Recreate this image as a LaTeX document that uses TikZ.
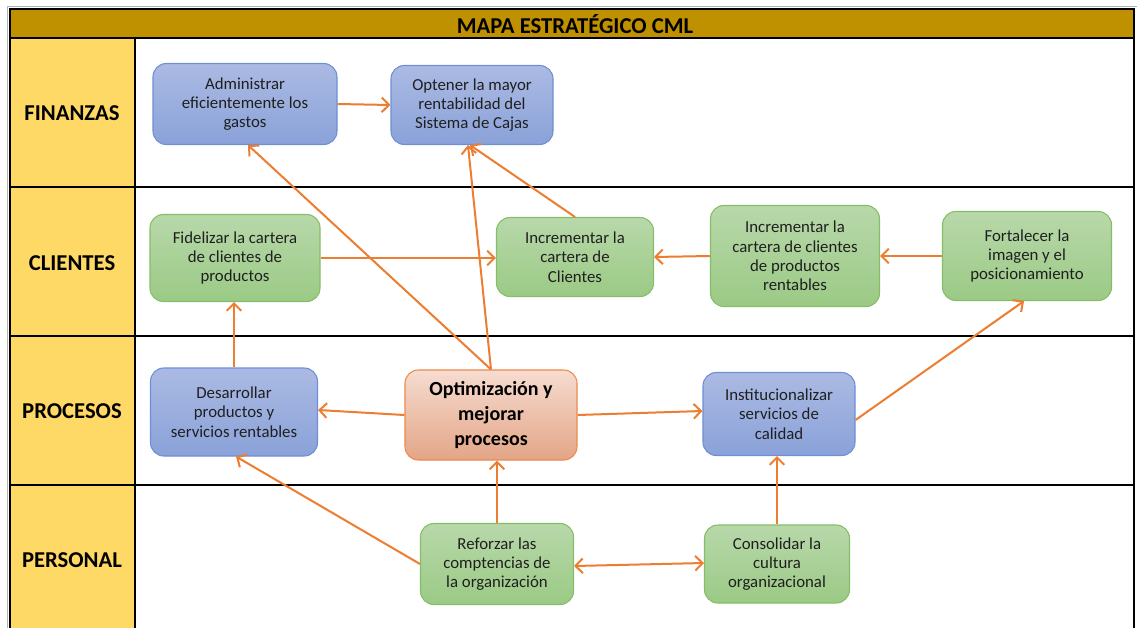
\documentclass[tikz,border=0pt]{standalone}
\usepackage{fontspec}
\setmainfont{Carlito}
\usetikzlibrary{arrows.meta,calc}

\definecolor{hdrgold}{HTML}{BF9000}
\definecolor{lanefill}{HTML}{FFD966}
\definecolor{flow}{HTML}{ED7D31}
\definecolor{ink}{HTML}{1F1F1F}
\definecolor{blueT}{HTML}{ABBAE3}
\definecolor{blueB}{HTML}{8AA2D9}
\definecolor{blueD}{HTML}{6E8FD3}
\definecolor{greenT}{HTML}{B8D8AA}
\definecolor{greenB}{HTML}{9BCA85}
\definecolor{greenD}{HTML}{86BE68}
\definecolor{orT}{HTML}{F6DCD0}
\definecolor{orB}{HTML}{E3A586}
\definecolor{orD}{HTML}{EE8A4C}

\tikzset{
  grid/.style={draw=black, line width=1.6pt},
  lanelabel/.style={font=\fontsize{17}{19}\selectfont\bfseries, text=black},
  objbox/.style={rounded corners=10pt, line width=0.8pt, align=center,
    font=\fontsize{12.6}{14.5}\selectfont, text=ink, inner sep=2pt},
  bluebox/.style={objbox, draw=blueD, top color=blueT, bottom color=blueB},
  greenbox/.style={objbox, draw=greenD, top color=greenT, bottom color=greenB},
  corebox/.style={objbox, draw=orD, top color=orT, bottom color=orB,
    font=\fontsize{15}{18.5}\selectfont\bfseries, text=black},
  link/.style={draw=flow, line width=1.5pt, -{Straight Barb[length=5.5pt,width=11pt]}},
  bilink/.style={draw=flow, line width=1.5pt,
    {Straight Barb[length=5.5pt,width=11pt]}-{Straight Barb[length=5.5pt,width=11pt]}}
}

\begin{document}
\begin{tikzpicture}[x=0.75pt,y=-0.75pt]
\useasboundingbox (0,0) rectangle (1137,628);
\fill[white] (0,0) rectangle (1137,628);

% faint outer cell border
\draw[gray!60, line width=0.6pt] (7,628) -- (7,6) -- (1137,6);

% header band and lane column
\fill[hdrgold] (10,9) rectangle (1134,38);
\fill[lanefill] (10,38) rectangle (135,628);

% table grid
\draw[grid] (10,628) -- (10,9) -- (1134,9) -- (1134,628);
\draw[grid] (10,38) -- (1134,38);
\draw[grid] (10,187) -- (1134,187);
\draw[grid] (10,336) -- (1134,336);
\draw[grid] (10,485) -- (1134,485);
\draw[grid] (135,38) -- (135,628);

% titles
\node[lanelabel] (title) at (575,24) {MAPA ESTRATÉGICO CML};
\node[lanelabel] (finanzas) at (72,113) {FINANZAS};
\node[lanelabel] (clientes) at (72,263) {CLIENTES};
\node[lanelabel] (procesos) at (72,411) {PROCESOS};
\node[lanelabel] (personal) at (72,560) {PERSONAL};

% finanzas
\node[bluebox, minimum width=138pt, minimum height=60.75pt] (admin) at (245,104)
  {Administrar\\eficientemente los\\gastos};
\node[bluebox, minimum width=121.5pt, minimum height=59.25pt] (rent) at (472,105)
  {Optener la mayor\\rentabilidad del\\Sistema de Cajas};

% clientes
\node[greenbox, minimum width=127.5pt, minimum height=65.25pt] (fidel) at (235,258)
  {Fidelizar la cartera\\de clientes de\\productos};
\node[greenbox, minimum width=117.75pt, minimum height=59.25pt] (inccli) at (575,257)
  {Incrementar la\\cartera de\\Clientes};
\node[greenbox, minimum width=126.75pt, minimum height=75.75pt] (incprod) at (795,256)
  {Incrementar la\\cartera de clientes\\de productos\\rentables};
\node[greenbox, minimum width=126.75pt, minimum height=66.75pt] (fort) at (1027,256)
  {Fortalecer la\\imagen y el\\posicionamiento};

% procesos
\node[bluebox, minimum width=125.25pt, minimum height=66pt] (desa) at (234,412)
  {Desarrollar\\productos y\\servicios rentables};
\node[corebox, minimum width=129pt, minimum height=67.5pt] (optim) at (491,415)
  {Optimización y\\mejorar\\procesos};
\node[bluebox, minimum width=114pt, minimum height=62.25pt] (inst) at (779,414)
  {Institucionalizar\\servicios de\\calidad};

% personal
\node[greenbox, minimum width=114.75pt, minimum height=60.75pt] (refor) at (497,564)
  {Reforzar las\\comptencias de\\la organización};
\node[greenbox, minimum width=108.75pt, minimum height=58.5pt] (consol) at (777,564)
  {Consolidar la\\cultura\\organizacional};

% cause-effect links
\draw[link] (admin.east) -- (rent.west);
\draw[link] (optim.north) -- ($(admin.south)+(3,0)$);
\draw[link] (optim.north) -- ($(rent.south)+(-4,0)$);
\draw[link] (inccli.north) -- ($(rent.south)+(-2,0)$);
\draw[link] (fidel.east) -- (fidel.east -| inccli.west);
\draw[link] (incprod.west) -- (inccli.east);
\draw[link] (fort.west) -- (incprod.east);
\draw[link] ($(inst.east)+(0,6)$) -- ($(fort.south)+(-3,0)$);
\draw[link] (desa.north) -- (desa.north |- fidel.south);
\draw[link] (optim.west) -- ($(desa.east)+(0,-2)$);
\draw[link] (optim.east) -- ($(inst.west)+(0,-3)$);
\draw[link] (refor.west) -- ($(desa.south)+(2,0)$);
\draw[link] (refor.north) -- (refor.north |- optim.south);
\draw[bilink] ($(refor.east)+(0,2)$) -- ($(consol.west)+(0,-1)$);
\draw[link] (consol.north) -- (consol.north |- inst.south);
\end{tikzpicture}
\end{document}
